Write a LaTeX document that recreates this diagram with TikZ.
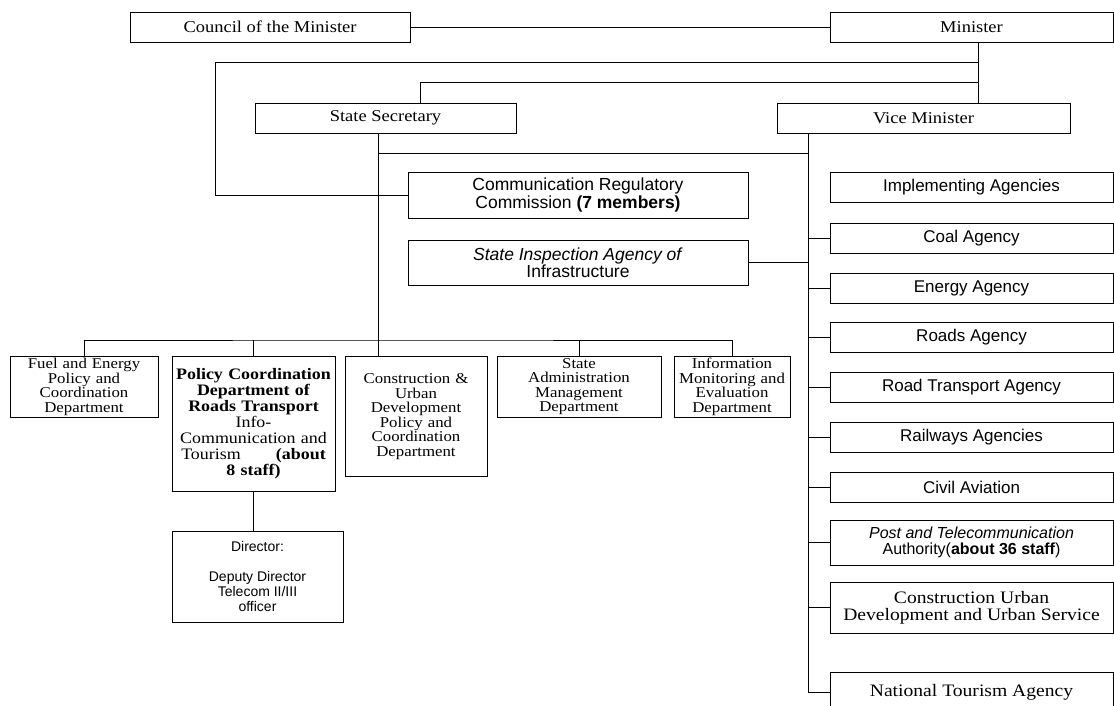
\documentclass[tikz,border=0pt]{standalone}
\usepackage{fontspec}
\setmainfont{Liberation Serif}[FakeStretch=1.12]
\setsansfont{Liberation Sans}
\usetikzlibrary{positioning}

\tikzset{
  link/.style={line width=0.8pt},
  orgbox/.style={draw, line width=0.8pt, inner sep=2pt, align=center,
    font=\fontsize{16.5}{17}\selectfont},
  agency/.style={orgbox, minimum width=283, minimum height=30,
    font=\sffamily\fontsize{17}{17}\selectfont},
  dept/.style={orgbox, anchor=north, font=\fontsize{15}{14.5}\selectfont},
}

\begin{document}
\begin{tikzpicture}[x=1pt, y=-1pt]
    \useasboundingbox (0,0) rectangle (1114,706);

    % Spines of the chart
    \coordinate (mx) at (978,0);
    \coordinate (sx) at (378,0);
    \coordinate (vx) at (808,0);
    \coordinate (lx) at (215,0);
    \coordinate (r1) at (978,62);
    \coordinate (r2) at (978,82);
    \coordinate (b1) at (378,153);
    \coordinate (bus) at (378,340);

    % Top level
    \node[orgbox, minimum width=280, minimum height=30] (council) at (270,27) {Council of the Minister};
    \node[orgbox, minimum width=283, minimum height=30] (minister) at (971.5,27) {Minister};
    \node[orgbox, minimum width=261, minimum height=30] (ss) at (385.5,118) {State Secretary};
    \node[orgbox, minimum width=293, minimum height=30] (vm) at (923.5,118) {Vice Minister};

    % Commission and inspection
    \node[orgbox, minimum width=340, minimum height=46, font=\sffamily\fontsize{17.5}{16}\selectfont]
        (crc) at (578,195) {Communication Regulatory\\Commission \textbf{(7 members)}};
    \node[orgbox, minimum width=340, minimum height=45, font=\sffamily\fontsize{17.5}{16}\selectfont]
        (sia) at (578,262.5) {\textit{State Inspection Agency of}\\Infrastructure};

    % Departments under the State Secretary
    \node[dept, minimum width=148, minimum height=58, text width=142] (fuel) at (84,356)
        {Fuel and Energy\\Policy and\\Coordination\\Department};
    \node[dept, minimum width=163, minimum height=135, text width=157,
        font=\fontsize{16}{16}\selectfont] (pcd) at (253.5,356)
        {\textbf{Policy Coordination}\\\textbf{Department of}\\\textbf{Roads Transport}\\Info-\\Communication and\\Tourism\hspace{2.2em}\textbf{(about}\\\textbf{8 staff)}};
    \node[dept, minimum width=142, minimum height=120, text width=136] (con) at (416,356)
        {Construction \&\\Urban\\Development\\Policy and\\Coordination\\Department};
    \node[dept, minimum width=164, minimum height=58, text width=158] (sam) at (579,356)
        {State\\Administration\\Management\\Department};
    \node[dept, minimum width=116, minimum height=58, text width=112] (info) at (732,356)
        {Information\\Monitoring and\\Evaluation\\Department};
    \node[orgbox, minimum width=171, minimum height=91, font=\sffamily\fontsize{14}{15}\selectfont]
        (dir) at (257.5,576.5) {Director:\\[15pt]Deputy Director\\Telecom II/III\\officer};

    % Agencies under the Vice Minister
    \node[agency] (impl) at (971.5,187) {Implementing Agencies};
    \foreach \y/\nm/\lab in {238/coal/Coal Agency, 288/energy/Energy Agency, 337/roads/Roads Agency,
        387/rta/Road Transport Agency, 437/rail/Railways Agencies, 487/civil/Civil Aviation} {
        \node[agency] (\nm) at (971.5,\y) {\lab};
        \draw[link] (\nm.west -| vx) -- (\nm.west);
    }
    \node[agency, minimum height=45, font=\sffamily\fontsize{16}{16}\selectfont] (ptt) at (971.5,542.5)
        {\textit{Post and Telecommunication}\\Authority(\textbf{about 36 staff})};
    \node[agency, minimum height=51, font=\fontsize{17.5}{17}\selectfont] (cud) at (971.5,607.5)
        {Construction Urban\\Development and Urban Service};
    \node[agency, minimum height=40, font=\fontsize{17.5}{17}\selectfont] (tour) at (971.5,692)
        {National Tourism Agency};
    \draw[link] (ptt.west -| vx) -- (ptt.west);
    \draw[link] (cud.west -| vx) -- (cud.west);

    % Connectors
    \draw[link] (council.east) -- (minister.west);
    \draw[link] (minister.south -| mx) -- (vm.north -| mx);
    \draw[link] (r1) -| (crc.west -| lx) -- (crc.west);
    \draw[link] (r2) -| ([xshift=35]ss.north);
    \draw[link] (ss.south -| sx) -- (con.north -| sx);
    \draw[link] (b1) -- (b1 -| vx);
    \draw[link] (vm.south -| vx) -- (tour.west -| vx) -- (tour.west);
    \draw[link] (sia.east) -- (sia.east -| vx);
    \draw[link] (fuel.north) |- (bus) -| (info.north);
    \draw[link] (pcd.north) -- (pcd.north |- bus);
    \draw[link] (sam.north) -- (sam.north |- bus);
    \draw[link] (pcd.south) -- (pcd.south |- dir.north);
\end{tikzpicture}
\end{document}
